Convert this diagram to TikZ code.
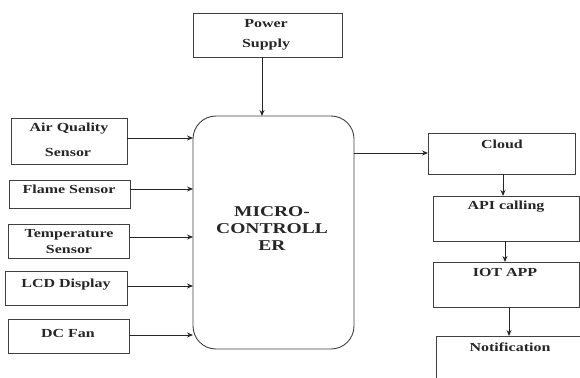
\documentclass[tikz,border=0pt]{standalone}
\usepackage{fontspec}
\setmainfont{Liberation Serif}[FakeStretch=1.3]
\usetikzlibrary{arrows.meta}
\begin{document}
\begin{tikzpicture}[x=1pt,y=-1pt,
  box/.style={draw=black!75,line width=0.9pt},
  lbl/.style={font=\fontsize{12.3}{14}\selectfont\bfseries,align=center,inner sep=0pt,text=black!85},
  arr/.style={draw=black!85,line width=0.9pt,-{Stealth[length=6pt,width=5pt]}}]
\useasboundingbox (0,0) rectangle (580,377);
\clip (0,0) rectangle (580,377);
% power supply
\draw[box] (193,13) rectangle (342,57);
\coordinate (ps) at (262,57);
\node[lbl] at (266,24) {Power};
\node[lbl] at (266,45) {Supply};
% micro
\draw[box,rounded corners=23pt] (193,116) rectangle (354,349);
\coordinate (mtop) at (262,116);
\node[lbl,font=\fontsize{15}{17}\selectfont\bfseries] (mc) at (272,229) {MICRO-\\CONTROLL\\ER};
\draw[arr] (ps) -- (mtop);
% left boxes
\draw[box] (11,118) rectangle (127,164);
\node[lbl] (aq) at (69,129) {Air Quality};
\node[lbl] at (68,152) {Sensor};
\draw[box] (9,180) rectangle (130,208);
\node[lbl] (fl) at (69,189) {Flame Sensor};
\draw[box] (8,224) rectangle (129,258);
\node[lbl] (tp) at (69,235) {Temperature};
\node[lbl] at (69,249) {Sensor};
\draw[box] (5,271) rectangle (127,305);
\node[lbl] (lcd) at (66,285) {LCD Display};
\draw[box] (8,319) rectangle (129,353);
\node[lbl] (fan) at (68,333) {DC Fan};
\draw[arr] (127,138) -- (193,138);
\draw[arr] (130,189) -- (193,189);
\draw[arr] (129,237) -- (193,237);
\draw[arr] (127,286) -- (193,286);
\draw[arr] (129,335) -- (193,335);
% right column
\draw[box] (428,133) rectangle (575,174);
\node[lbl] (cl) at (502,144) {Cloud};
\draw[box] (433,196) rectangle (579,241);
\node[lbl] (api) at (506,207) {API calling};
\draw[box] (433,262) rectangle (579,307);
\node[lbl] (iot) at (505,272) {IOT APP};
\draw[box] (436,385) -- (436,336) -- (585,336);
\node[lbl] (nt) at (510,347) {Notification};
\draw[arr] (354,153) -- (428,153);
\draw[arr] (503,174) -- (503,196);
\draw[arr] (505,241) -- (505,262);
\draw[arr] (509,307) -- (509,336);
\end{tikzpicture}
\end{document}
